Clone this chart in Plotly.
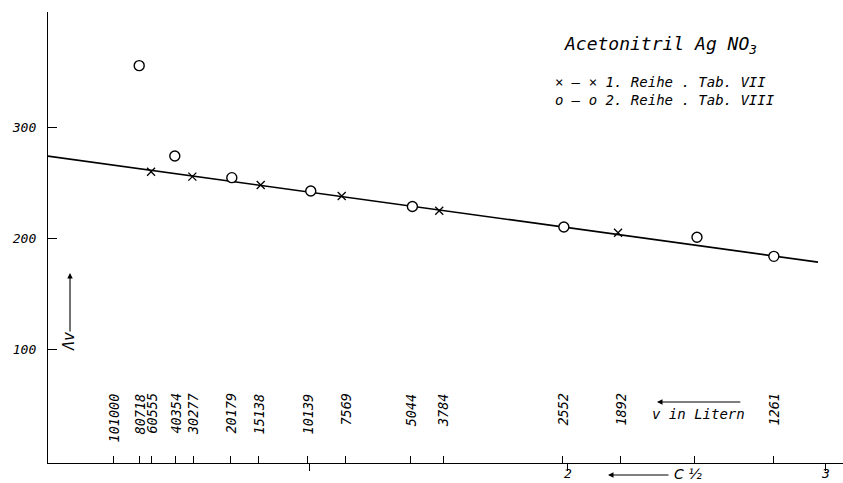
import plotly.graph_objects as go

# ---- data (x = c^1/2 in units of 10^-2, y = Lambda_v) ----
reihe1_x = [0.384, 0.544, 0.809, 1.123, 1.501, 2.194]
reihe1_y = [260.3, 255.8, 248.3, 238.4, 225.1, 205.2]
reihe2_x = [0.338, 0.476, 0.697, 1.003, 1.397, 1.984, 2.500, 2.798]
reihe2_y = [356.0, 274.5, 254.9, 242.9, 228.9, 210.4, 201.1, 183.9]
line_x = [-0.016, 2.969]
line_y = [274.4, 178.7]

v_pos = [0.240, 0.341, 0.384, 0.477, 0.547, 0.690, 0.802, 0.992,
         1.136, 1.391, 1.516, 1.977, 2.202, 2.492, 2.795]
v_labels = ["101000", "80718", "60555", "40354", "30277", "20179", "15138", "10139",
            "7569", "5044", "3784", "2552", "1892", "", "1261"]
c_ticks = [1, 2, 3]
c_ticktext = ["", "2", "3"]
y_ticks = [100, 200, 300]
y_ticktext = ["100", "200", "300"]

FONT = "DejaVu Sans Mono"
XR = [-0.0155, 3.066]
YR = [-2.6, 404.4]
L, T, W, H = 48, 12, 795, 451  # plot area in pixels


def it(size, family=FONT):
    return dict(family=family, size=size, color="black", style="italic")


def px(x):
    return (x - L) / W


def py(y):
    return (T + H - y) / H


fig = go.Figure()
fig.add_trace(go.Scatter(x=line_x, y=line_y, mode="lines",
                         line=dict(color="black", width=1.6), showlegend=False,
                         hoverinfo="skip"))
fig.add_trace(go.Scatter(x=reihe1_x, y=reihe1_y, mode="markers", name="1. Reihe",
                         marker=dict(symbol="x-thin", size=8,
                                     line=dict(width=1.3, color="black")),
                         showlegend=False))
fig.add_trace(go.Scatter(x=reihe2_x, y=reihe2_y, mode="markers", name="2. Reihe",
                         marker=dict(symbol="circle", size=10, color="white",
                                     line=dict(width=1.4, color="black")),
                         showlegend=False))
# invisible trace to activate the secondary x axis (v ticks)
fig.add_trace(go.Scatter(x=[XR[0]], y=[YR[0]], xaxis="x2", mode="markers",
                         marker=dict(opacity=0), showlegend=False, hoverinfo="skip"))

ann = []
for p, lab in zip(v_pos, v_labels):
    if lab:
        ann.append(dict(x=p, xref="x", y=py(391), yref="paper",
                        text=lab, textangle=-90, showarrow=False,
                        xanchor="center", yanchor="top", font=it(13.5)))

# c^1/2 tick labels below the axis
for p, lab in zip(c_ticks, c_ticktext):
    if lab:
        ann.append(dict(x=p, xref="x", y=py(473), yref="paper", text=lab,
                        showarrow=False, xanchor="center", yanchor="middle",
                        font=it(13)))

# v in Litern with arrow
ann.append(dict(x=px(698), y=py(414), xref="paper", yref="paper",
                text="v in Litern", showarrow=False, xanchor="center",
                yanchor="middle", font=it(14)))
ann.append(dict(x=2.345, y=52.4, xref="x", yref="y", ax=2.674, ay=52.4,
                axref="x", ayref="y", text="", showarrow=True, arrowhead=2,
                arrowsize=1, arrowwidth=1.1, arrowcolor="black"))
# c 1/2 with arrow
ann.append(dict(x=px(672), y=py(474), xref="paper", yref="paper", text="C ½",
                showarrow=False, xanchor="left", yanchor="middle",
                font=it(14, "DejaVu Sans")))
ann.append(dict(x=2.155, y=py(475), xref="x", yref="paper", ax=62, ay=0,
                axref="pixel", ayref="pixel", text="", showarrow=True, arrowhead=2,
                arrowsize=1, arrowwidth=1.1, arrowcolor="black"))
# Lambda_v with upward arrow
ann.append(dict(x=px(69), y=py(342), xref="paper", yref="paper",
                text="Λ<i>v</i>", textangle=-90, showarrow=False,
                xanchor="center", yanchor="middle", font=it(15)))
ann.append(dict(x=0.0698, y=168.9, xref="x", yref="y", ax=0.0698, ay=114.7,
                axref="x", ayref="y", text="", showarrow=True, arrowhead=2,
                arrowsize=1, arrowwidth=1.1, arrowcolor="black"))
# legend texts
ann.append(dict(x=px(562), y=py(45), xref="paper", yref="paper",
                text="Acetonitril Ag NO<sub>3</sub>", showarrow=False,
                xanchor="left", yanchor="middle", font=it(18)))
ann.append(dict(x=px(553), y=py(82), xref="paper", yref="paper",
                text="× – × 1. Reihe . Tab. VII", showarrow=False,
                xanchor="left", yanchor="middle", font=it(14)))
ann.append(dict(x=px(553), y=py(100), xref="paper", yref="paper",
                text="o – o 2. Reihe . Tab. VIII", showarrow=False,
                xanchor="left", yanchor="middle", font=it(14)))

fig.update_layout(
    width=843, height=483,
    margin=dict(l=L, r=843 - L - W, t=T, b=483 - T - H),
    paper_bgcolor="white", plot_bgcolor="white",
    showlegend=False,
    xaxis=dict(range=XR, showline=True, linecolor="black", linewidth=1.3,
               ticks="outside", ticklen=7, tickwidth=1.2, tickcolor="black",
               tickvals=c_ticks, showticklabels=False,
               showgrid=False, zeroline=False, automargin=False),
    xaxis2=dict(range=XR, overlaying="x", anchor="y", side="bottom",
                showline=False, ticks="inside", ticklen=7, tickwidth=1.1,
                tickcolor="black", tickvals=v_pos, showticklabels=False,
                showgrid=False, zeroline=False, automargin=False),
    yaxis=dict(range=YR, showline=True, linecolor="black", linewidth=1.3,
               ticks="inside", ticklen=9, tickwidth=1.2, tickcolor="black",
               tickvals=y_ticks, ticktext=y_ticktext, tickfont=it(13),
               showgrid=False, zeroline=False, ticklabelstandoff=8,
               automargin=False),
    annotations=ann,
)

fig.write_html("out.html")
